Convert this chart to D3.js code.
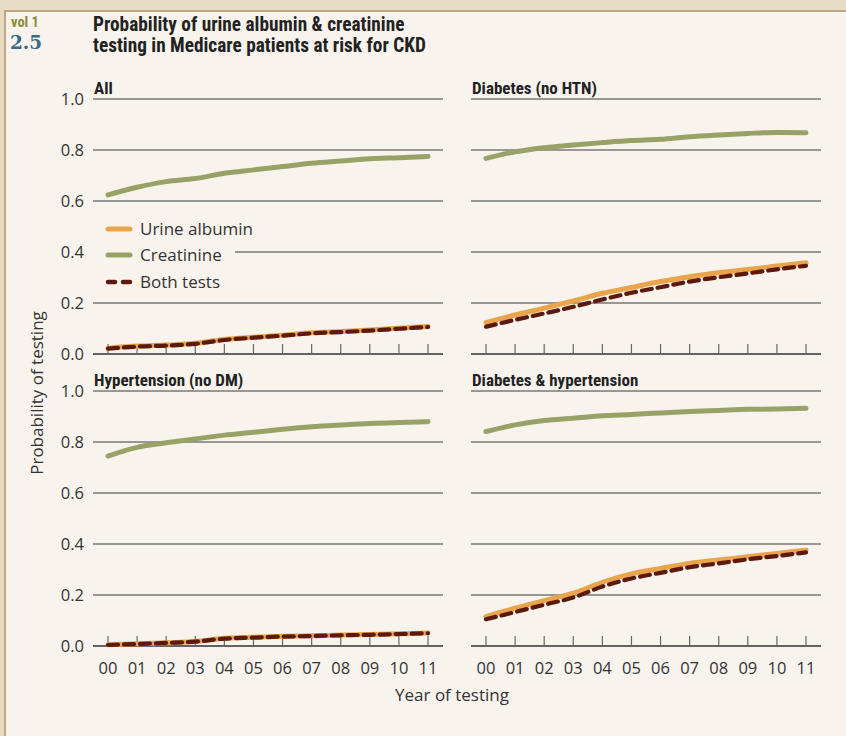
<!DOCTYPE html>
<html><head><meta charset="utf-8">
<script src="https://cdn.jsdelivr.net/npm/d3@7"></script>
<style>
html,body{margin:0;padding:0;background:#e9dcc5;}
svg{display:block;}
</style></head>
<body>
<svg id="c" width="846" height="736"></svg>
<script>
const years = ["00","01","02","03","04","05","06","07","08","09","10","11"];
const yTicks = [0, 0.2, 0.4, 0.6, 0.8, 1.0];
const panelTitles = ["All", "Diabetes (no HTN)", "Hypertension (no DM)", "Diabetes & hypertension"];
const seriesNames = ["Urine albumin", "Creatinine", "Both tests"];

// All
const allCreatinine = [0.624,0.654,0.676,0.688,0.709,0.722,0.735,0.748,0.757,0.766,0.770,0.775];
const allUrine      = [0.023,0.031,0.035,0.042,0.057,0.066,0.074,0.083,0.088,0.094,0.101,0.108];
const allBoth       = [0.021,0.029,0.033,0.040,0.055,0.064,0.072,0.081,0.086,0.092,0.099,0.106];
// Diabetes (no HTN)
const dmCreatinine  = [0.767,0.793,0.809,0.820,0.829,0.837,0.842,0.852,0.859,0.865,0.869,0.868];
const dmUrine       = [0.123,0.153,0.180,0.208,0.238,0.261,0.284,0.303,0.319,0.331,0.345,0.358];
const dmBoth        = [0.107,0.134,0.159,0.185,0.214,0.240,0.262,0.284,0.301,0.316,0.332,0.346];
// Hypertension (no DM)
const htnCreatinine = [0.745,0.779,0.797,0.812,0.827,0.838,0.850,0.860,0.867,0.873,0.876,0.880];
const htnUrine      = [0.005,0.009,0.013,0.018,0.030,0.034,0.038,0.040,0.043,0.045,0.048,0.051];
const htnBoth       = [0.004,0.008,0.012,0.017,0.029,0.033,0.037,0.039,0.042,0.044,0.047,0.050];
// Diabetes & hypertension
const dhCreatinine  = [0.841,0.867,0.884,0.893,0.903,0.908,0.914,0.920,0.924,0.928,0.929,0.932];
const dhUrine       = [0.115,0.148,0.178,0.207,0.250,0.283,0.304,0.324,0.337,0.350,0.363,0.376];
const dhBoth        = [0.105,0.133,0.162,0.190,0.233,0.265,0.287,0.309,0.324,0.340,0.353,0.367];

const panelData = [
  [allUrine, allCreatinine, allBoth],
  [dmUrine, dmCreatinine, dmBoth],
  [htnUrine, htnCreatinine, htnBoth],
  [dhUrine, dhCreatinine, dhBoth]
];

const colors = {urine:"#e9a44c", creat:"#98a266", both:"#5b1a0d"};
const font = "'Open Sans', 'Noto Sans', sans-serif";
const condensed = "'Liberation Sans Narrow', 'Roboto Condensed', 'Roboto', sans-serif";

const svg = d3.select("#c");
// inner paper panel
svg.append("rect").attr("x",5).attr("y",11).attr("width",900).attr("height",800)
  .attr("fill","#f8f4ed").attr("stroke","#c2a680").attr("stroke-width",2);

// header
svg.append("text").attr("x",11).attr("y",27).text("vol 1")
  .attr("font-family",condensed).attr("font-weight","bold").attr("font-size",14.5).attr("fill","#8c8a3c");
svg.append("text").attr("x",10).attr("y",49).text("2.5")
  .attr("font-family","'DejaVu Serif', serif").attr("font-weight","bold").attr("font-size",18.5).attr("fill","#3b6b87");
svg.append("text").attr("x",93).attr("y",31).text("Probability of urine albumin & creatinine")
  .attr("font-family",condensed).attr("font-weight","bold").attr("font-size",19.3).attr("fill","#222");
svg.append("text").attr("x",93).attr("y",52).text("testing in Medicare patients at risk for CKD")
  .attr("font-family",condensed).attr("font-weight","bold").attr("font-size",19.3).attr("fill","#222");

const cols = [{gx0:93, gx1:443, x0:108, x1:428}, {gx0:471, gx1:821, x0:486, x1:806}];
const rows = [{y0:354, y1:99}, {y0:646, y1:391}];

panelTitles.forEach((title, i) => {
  const c = cols[i % 2], r = rows[Math.floor(i / 2)];
  const x = d3.scaleLinear().domain([0, years.length - 1]).range([c.x0, c.x1]);
  const y = d3.scaleLinear().domain([0, 1]).range([r.y0, r.y1]);
  const g = svg.append("g");

  // gridlines
  g.selectAll("line.grid").data(yTicks.filter(t => t > 0)).enter().append("line")
    .attr("x1", c.gx0).attr("x2", c.gx1).attr("y1", d => y(d)).attr("y2", d => y(d))
    .attr("stroke", "#3a3a3a").attr("stroke-width", 1.1);
  // baseline
  g.append("line").attr("x1", c.gx0).attr("x2", c.gx1).attr("y1", y(0)).attr("y2", y(0))
    .attr("stroke", "#333").attr("stroke-width", 1.6);
  // ticks
  g.selectAll("line.tick").data(years).enter().append("line")
    .attr("x1", (d, j) => x(j)).attr("x2", (d, j) => x(j)).attr("y1", y(0)).attr("y2", y(0) - 10)
    .attr("stroke", "#666").attr("stroke-width", 1.2);

  // y labels on left column
  if (i % 2 === 0) {
    g.selectAll("text.yl").data(yTicks).enter().append("text")
      .attr("x", 84).attr("y", d => y(d) + 6).attr("text-anchor", "end")
      .attr("font-family", font).attr("font-size", 16.5).attr("fill", "#333")
      .text(d => d.toFixed(1));
  }
  // x labels for bottom row
  if (Math.floor(i / 2) === 1) {
    g.selectAll("text.xl").data(years).enter().append("text")
      .attr("x", (d, j) => x(j)).attr("y", y(0) + 28).attr("text-anchor", "middle")
      .attr("font-family", font).attr("font-size", 16.5).attr("fill", "#333").text(d => d);
  }

  // legend background in first panel
  if (i === 0) {
    g.append("rect").attr("x", c.gx0).attr("y", 214).attr("width", 142).attr("height", 82).attr("fill", "#f8f4ed");
  }

  // title
  g.append("text").attr("x", c.gx0 + 1).attr("y", y(1) - 5).text(title)
    .attr("font-family", condensed).attr("font-weight", "bold").attr("font-size", 17).attr("fill", "#222");

  const line = d3.line().x((d, j) => x(j)).y(d => y(d)).curve(d3.curveMonotoneX);
  const [u, cr, b] = panelData[i];
  g.append("path").attr("d", line(cr)).attr("fill", "none").attr("stroke", colors.creat)
    .attr("stroke-width", 5).attr("stroke-linecap", "round").attr("stroke-linejoin", "round");
  g.append("path").attr("d", line(u)).attr("fill", "none").attr("stroke", colors.urine)
    .attr("stroke-width", 5).attr("stroke-linecap", "round").attr("stroke-linejoin", "round");
  g.append("path").attr("d", line(b)).attr("fill", "none").attr("stroke", colors.both)
    .attr("stroke-width", 4.2).attr("stroke-dasharray", "10,6").attr("stroke-linecap", "round");
});

// legend
const legendColors = [colors.urine, colors.creat, colors.both];
const legendY = [229, 255, 282];
seriesNames.forEach((name, k) => {
  const ln = svg.append("line").attr("x1", 108).attr("x2", 130).attr("y1", legendY[k]).attr("y2", legendY[k])
    .attr("stroke", legendColors[k]).attr("stroke-width", k === 2 ? 4.5 : 5).attr("stroke-linecap", "round");
  if (k === 2) ln.attr("stroke-dasharray", "7,8");
  svg.append("text").attr("x", 140).attr("y", legendY[k] + 6).text(name)
    .attr("font-family", font).attr("font-size", 17).attr("fill", "#333");
});

// axis titles
svg.append("text").attr("transform", "translate(43,393) rotate(-90)").attr("text-anchor", "middle")
  .attr("font-family", font).attr("font-size", 17).attr("fill", "#333").text("Probability of testing");
svg.append("text").attr("x", 452).attr("y", 701).attr("text-anchor", "middle")
  .attr("font-family", font).attr("font-size", 17).attr("fill", "#333").text("Year of testing");
</script>
</body></html>
